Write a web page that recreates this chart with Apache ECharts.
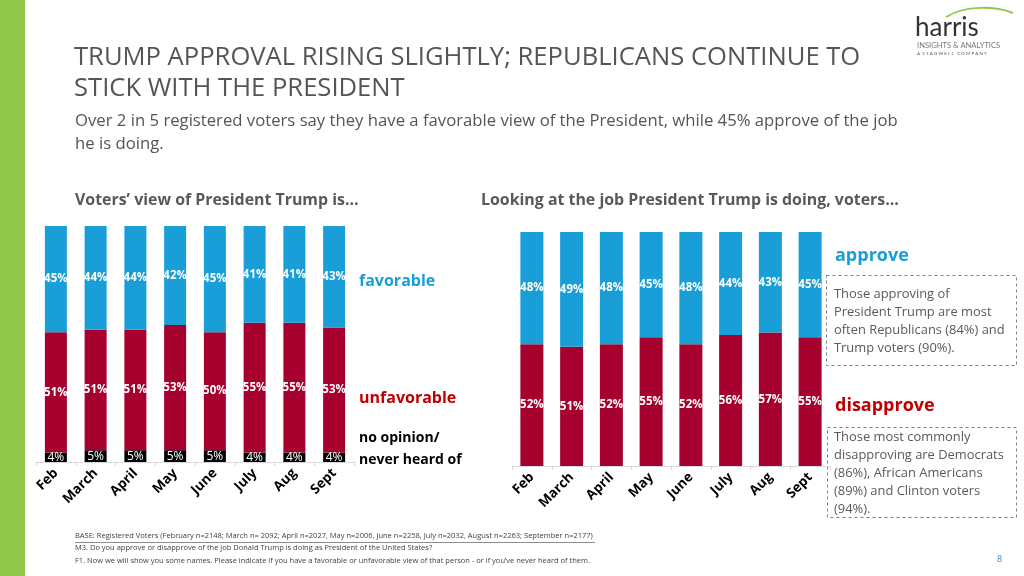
<!DOCTYPE html>
<html><head><meta charset="utf-8">
<script src="https://cdn.jsdelivr.net/npm/echarts@6/dist/echarts.min.js"></script>
<style>html,body{margin:0;padding:0;background:#fff}#c{width:1024px;height:576px}</style>
</head><body><div id="c"></div>
<script>
const months = ['Feb','March','April','May','June','July','Aug','Sept'];
const favorable = [45,44,44,42,45,41,41,43];
const unfavorable = [51,51,51,53,50,55,55,53];
const noOpinion = [4,5,5,5,5,4,4,4];
const approve = [48,49,48,45,48,44,43,45];
const disapprove = [52,51,52,55,52,56,57,55];

const BLUE='#1a9ed8', RED='#a6002e', BLACK='#000000', GREEN='#92c84c';
const FONT='"Open Sans", sans-serif';
const chart = echarts.init(document.getElementById('c'), null, {renderer:'canvas'});

function xAxis(gi){
  return {type:'category', gridIndex:gi, data:months,
    axisLine:{lineStyle:{color:'#d9d9d9'}},
    axisTick:{show:true, length:4, lineStyle:{color:'#d9d9d9'}},
    axisLabel:{rotate:45, margin:9, color:'#000', fontWeight:'bold', fontSize:13.5, fontFamily:FONT}};
}
function yAxis(gi){
  return {type:'value', gridIndex:gi, min:0, max:100, show:false, splitLine:{show:false}};
}
const lbl = (bold, size)=>({show:true, position:'inside', color:'#fff', fontFamily:FONT, fontWeight:bold?'bold':'normal', fontSize:size, formatter:p=>p.value+'%'});

function txt(x,y,text,style){
  return {type:'text', left:x, top:y, style:Object.assign({text:text, fontFamily:FONT, fill:'#404040', fontSize:14}, style)};
}

const graphics = [
  {type:'rect', shape:{x:0,y:0,width:25,height:576}, style:{fill:GREEN}},
  txt(74,45,'TRUMP APPROVAL RISING SLIGHTLY; REPUBLICANS CONTINUE TO',{fontSize:25.6, fill:'#555555'}),
  txt(74,76,'STICK WITH THE PRESIDENT',{fontSize:25.6, fill:'#555555'}),
  txt(75,113,'Over 2 in 5 registered voters say they have a favorable view of the President, while 45% approve of the job',{fontSize:16.7, fill:'#555555'}),
  txt(75,136,'he is doing.',{fontSize:16.7, fill:'#555555'}),
  txt(75,192,'Voters\u2019 view of President Trump is\u2026',{fontSize:15.9, fontWeight:'bold', fill:'#595959'}),
  txt(481,192,'Looking at the job President Trump is doing, voters\u2026',{fontSize:15.9, fontWeight:'bold', fill:'#595959'}),
  txt(359,273,'favorable',{fontSize:16, fontWeight:'bold', fill:BLUE}),
  txt(359,390,'unfavorable',{fontSize:16, fontWeight:'bold', fill:'#c00000'}),
  txt(359,431,'no opinion/',{fontSize:14, fontWeight:'bold', fill:'#000'}),
  txt(359,453,'never heard of',{fontSize:14, fontWeight:'bold', fill:'#000'}),
  txt(835,247,'approve',{fontSize:18, fontWeight:'bold', fill:BLUE}),
  txt(835,397,'disapprove',{fontSize:18, fontWeight:'bold', fill:'#c00000'}),
  {type:'rect', shape:{x:826.5,y:275.5,width:190,height:90}, style:{fill:'none', stroke:'#808080', lineWidth:1, lineDash:[3,3]}},
  {type:'rect', shape:{x:827.5,y:427.5,width:189,height:90}, style:{fill:'none', stroke:'#808080', lineWidth:1, lineDash:[3,3]}},
  txt(834,285,'Those approving of\nPresident Trump are most\noften Republicans (84%) and\nTrump voters (90%).',{fontSize:12.9, lineHeight:18, fill:'#595959'}),
  txt(834,428,'Those most commonly\ndisapproving are Democrats\n(86%), African Americans\n(89%) and Clinton voters\n(94%).',{fontSize:12.9, lineHeight:18, fill:'#595959'}),
  txt(75,532,'BASE: Registered Voters (February n=2148; March n= 2092; April n=2027, May n=2006, June n=2258, July n=2032, August n=2263; September n=2177)',{fontSize:7.5, fill:'#404040'}),
  {type:'line', shape:{x1:75,y1:542.5,x2:595,y2:542.5}, style:{stroke:'#404040', lineWidth:0.6}},
  txt(75,544,'M3. Do you approve or disapprove of the job Donald Trump is doing as President of the United States?',{fontSize:7.5, fill:'#404040'}),
  txt(75,557,'F1. Now we will show you some names. Please indicate if you have a favorable or unfavorable view of that person - or if you\u2019ve never heard of them.',{fontSize:7.5, fill:'#404040'}),
  txt(997,555,'8',{fontSize:9, fill:'#2b8fc0'}),
  // logo
  {type:'bezierCurve', shape:{x1:946,y1:17,x2:1013,y2:13,cpx1:965,cpy1:5,cpx2:995,cpy2:6}, style:{stroke:GREEN, lineWidth:2, fill:'none'}},
  txt(915,15,'harris',{fontSize:26, fill:'#333333', fontFamily:'Lato, sans-serif'}),
  txt(917,42,'INSIGHTS & ANALYTICS',{fontSize:7.6, fill:'#777777', fontFamily:'Lato, sans-serif'}),
  txt(917,51,'A  S T A G W E L L   C O M P A N Y',{fontSize:4.5, fill:'#555555', fontFamily:'Lato, sans-serif'})
];

chart.setOption({
  animation:false,
  grid:[
    {left:36, width:318, top:226, height:236},
    {left:512, width:318, top:232, height:234}
  ],
  xAxis:[xAxis(0), xAxis(1)],
  yAxis:[yAxis(0), yAxis(1)],
  series:[
    {name:'no opinion', type:'bar', stack:'a', xAxisIndex:0, yAxisIndex:0, data:noOpinion, barWidth:22, itemStyle:{color:BLACK}, label:lbl(false,12)},
    {name:'unfavorable', type:'bar', stack:'a', xAxisIndex:0, yAxisIndex:0, data:unfavorable, barWidth:22, itemStyle:{color:RED}, label:lbl(true,11.5)},
    {name:'favorable', type:'bar', stack:'a', xAxisIndex:0, yAxisIndex:0, data:favorable, barWidth:22, itemStyle:{color:BLUE}, label:lbl(true,11.5)},
    {name:'disapprove', type:'bar', stack:'b', xAxisIndex:1, yAxisIndex:1, data:disapprove, barWidth:23, itemStyle:{color:RED}, label:lbl(true,11.5)},
    {name:'approve', type:'bar', stack:'b', xAxisIndex:1, yAxisIndex:1, data:approve, barWidth:23, itemStyle:{color:BLUE}, label:lbl(true,11.5)}
  ],
  graphic:graphics
});
</script></body></html>
